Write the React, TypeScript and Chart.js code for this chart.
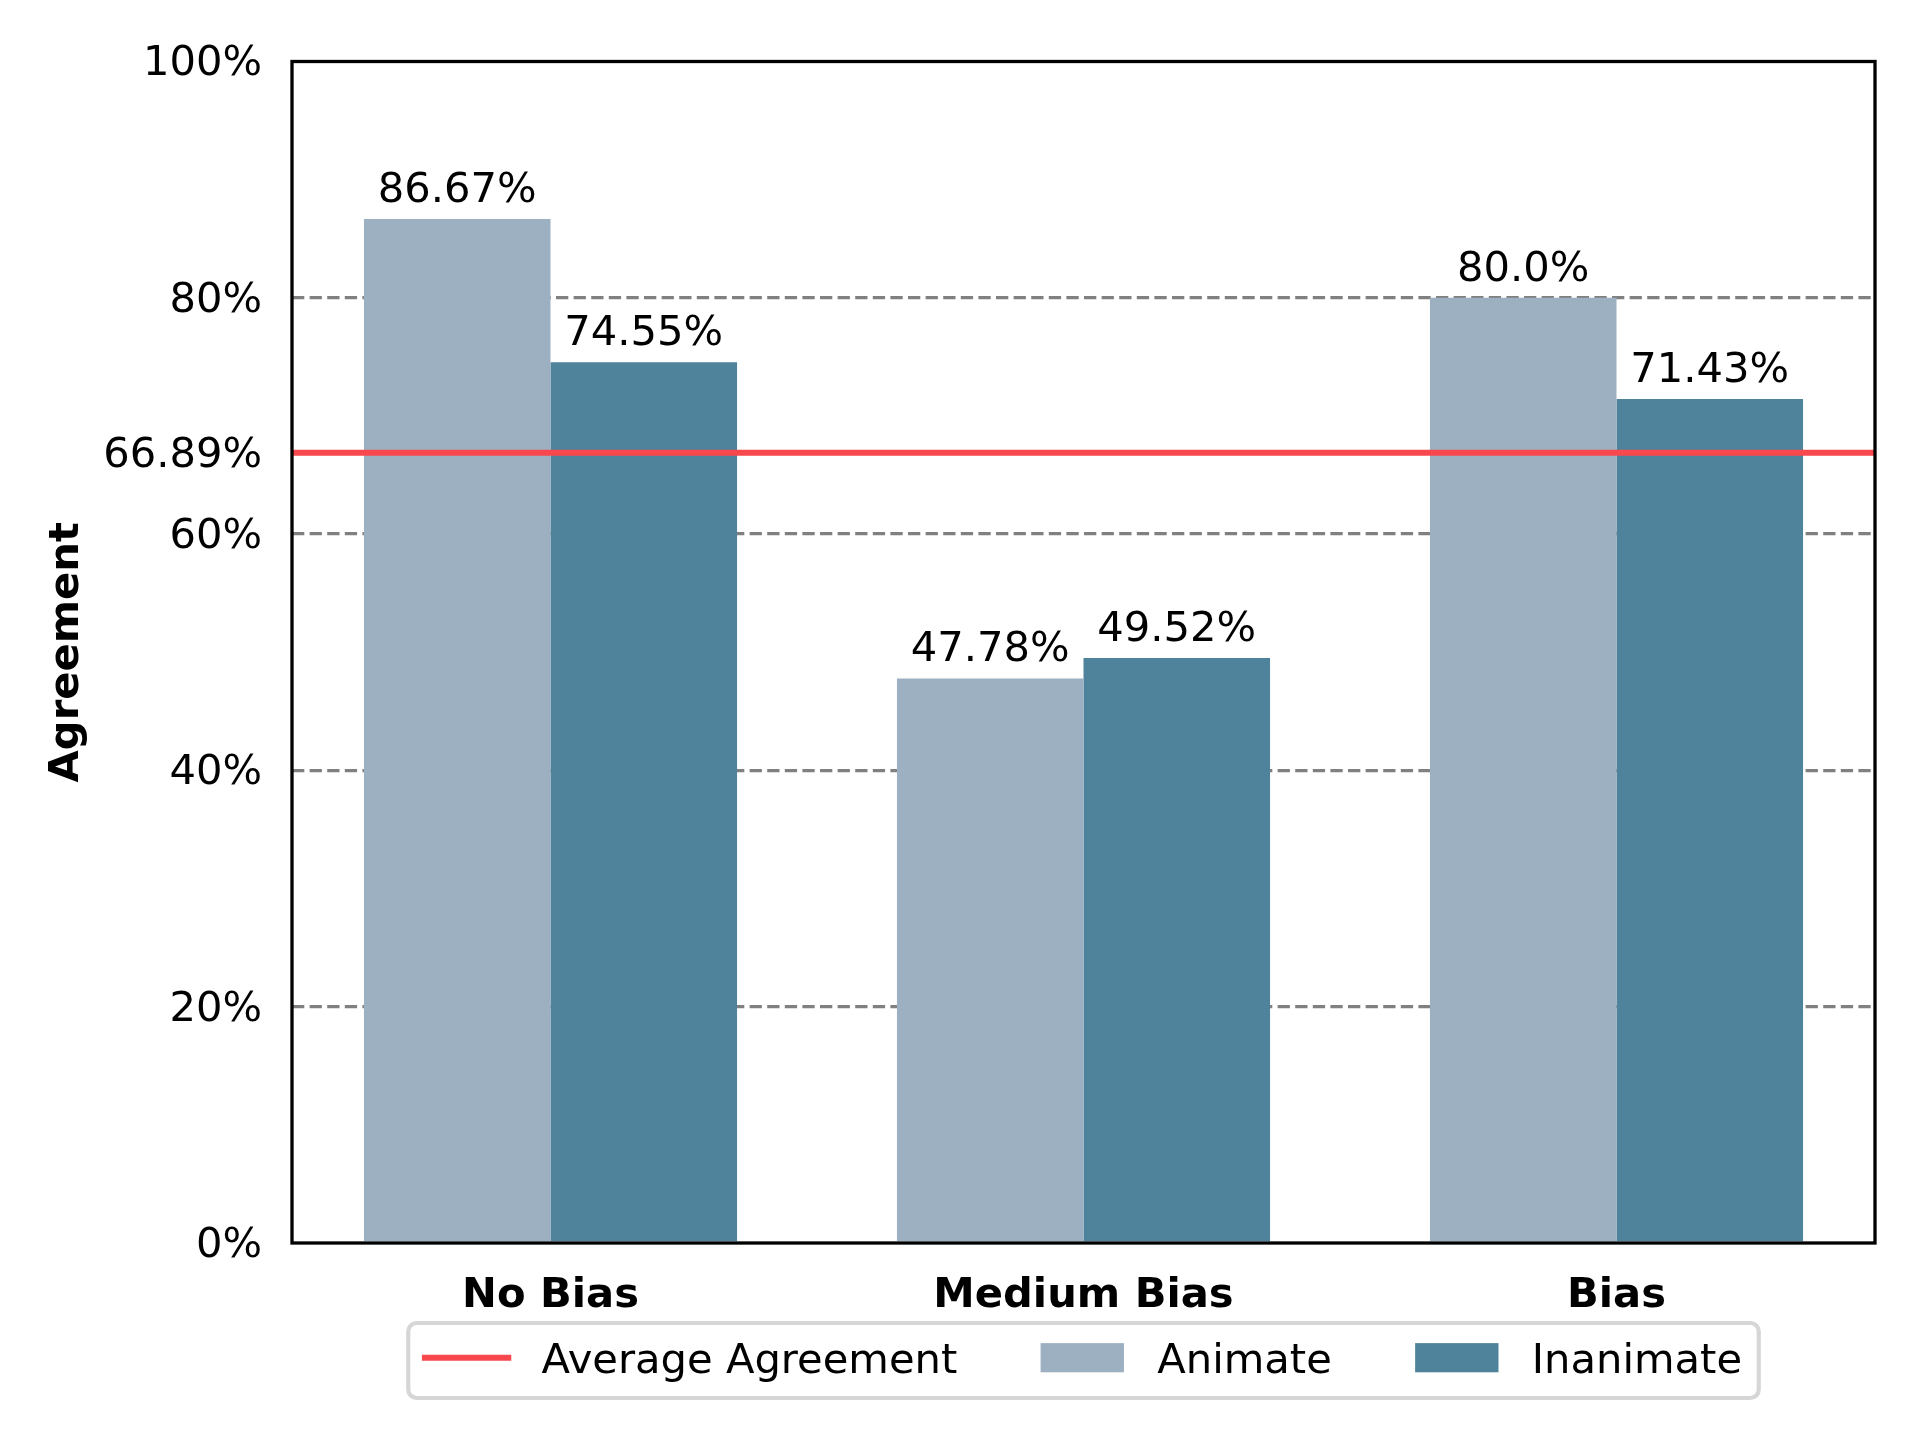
import React, { useEffect, useRef } from 'react';
import { Chart, registerables } from 'chart.js';

Chart.register(...registerables);

// ---- data ----
const categories = ['No Bias', 'Medium Bias', 'Bias'];
const seriesLabels = ['Animate', 'Inanimate'];
const animateValues = [86.67, 47.78, 80.0];
const inanimateValues = [74.55, 49.52, 71.43];
const averageLabel = 'Average Agreement';
const averageAgreement = 66.89;
const yTickValues = [0, 20, 40, 60, 80, 100];
const gridValues = [20, 40, 60, 80];
const yTitle = 'Agreement';

// ---- style ----
const FONT = '"DejaVu Sans", "Liberation Sans", sans-serif';
const FS = 41.67;
const COLORS = {
  animate: '#9DB0C1',
  inanimate: '#4F829B',
  avg: '#F8474D',
  grid: '#808080',
  frame: '#000000',
  legendEdge: '#D6D6D6',
};

const fmtValue = (v: number) => (Number.isInteger(v) ? v.toFixed(1) : String(v)) + '%';

const decorPlugin = {
  id: 'decor',
  afterDatasetsDraw(chart: any) {
    const { ctx, chartArea: a } = chart;
    const y = chart.scales.y;
    ctx.save();
    // average line
    const yy = y.getPixelForValue(averageAgreement);
    ctx.strokeStyle = COLORS.avg;
    ctx.lineWidth = 6;
    ctx.beginPath();
    ctx.moveTo(a.left, yy);
    ctx.lineTo(a.right, yy);
    ctx.stroke();
    // value labels
    ctx.fillStyle = '#000';
    ctx.font = `${FS}px ${FONT}`;
    ctx.textAlign = 'center';
    ctx.textBaseline = 'alphabetic';
    chart.data.datasets.forEach((ds: any, di: number) => {
      const meta = chart.getDatasetMeta(di);
      meta.data.forEach((el: any, i: number) => {
        const v = ds.data[i].y;
        ctx.fillText(fmtValue(v), el.x, el.y - 17);
      });
    });
    // frame
    ctx.strokeStyle = COLORS.frame;
    ctx.lineWidth = 3.3;
    ctx.strokeRect(a.left, a.top, a.right - a.left, a.bottom - a.top);
    ctx.restore();
  },
  afterDraw(chart: any) {
    const { ctx, chartArea: a } = chart;
    ctx.save();
    ctx.font = `${FS}px ${FONT}`;
    const handle = 2.0 * FS;
    const hpad = 0.8 * FS;
    const colsp = 2.0 * FS;
    const bpad = 0.4 * FS;
    const items = [
      { label: averageLabel, type: 'line', color: COLORS.avg },
      { label: seriesLabels[0], type: 'rect', color: COLORS.animate },
      { label: seriesLabels[1], type: 'rect', color: COLORS.inanimate },
    ];
    const widths = items.map((it) => handle + hpad + ctx.measureText(it.label).width);
    const content = widths.reduce((s, w) => s + w, 0) + colsp * (items.length - 1);
    const boxW = content + 2 * bpad;
    const cx = (a.left + a.right) / 2;
    const left = cx - boxW / 2;
    const top = a.bottom + 80;
    const h = 75;
    ctx.beginPath();
    (ctx as any).roundRect(left, top, boxW, h, 8.3);
    ctx.fillStyle = '#ffffff';
    ctx.fill();
    ctx.strokeStyle = COLORS.legendEdge;
    ctx.lineWidth = 4.17;
    ctx.stroke();
    let x = left + bpad;
    const midY = top + 34.7;
    items.forEach((it, i) => {
      if (it.type === 'line') {
        ctx.strokeStyle = it.color;
        ctx.lineWidth = 6;
        ctx.lineCap = 'square';
        ctx.beginPath();
        ctx.moveTo(x, midY);
        ctx.lineTo(x + handle, midY);
        ctx.stroke();
        ctx.lineCap = 'butt';
      } else {
        ctx.fillStyle = it.color;
        ctx.fillRect(x, midY - 0.35 * FS, handle, 0.7 * FS);
      }
      ctx.fillStyle = '#000';
      ctx.textAlign = 'left';
      ctx.textBaseline = 'alphabetic';
      ctx.fillText(it.label, x + handle + hpad, top + 50);
      x += widths[i] + colsp;
    });
    ctx.restore();
  },
};

export default function App() {
  const ref = useRef<HTMLCanvasElement>(null);
  useEffect(() => {
    if (!ref.current) return;
    const chart = new Chart(ref.current, {
      type: 'bar',
      data: {
        datasets: [
          {
            label: seriesLabels[0],
            data: categories.map((_, i) => ({ x: i, y: animateValues[i] })),
            backgroundColor: COLORS.animate,
            borderWidth: 0,
          },
          {
            label: seriesLabels[1],
            data: categories.map((_, i) => ({ x: i, y: inanimateValues[i] })),
            backgroundColor: COLORS.inanimate,
            borderWidth: 0,
          },
        ],
      },
      options: {
        animation: false,
        responsive: true,
        maintainAspectRatio: false,
        devicePixelRatio: 1,
        layout: { padding: { left: 0, top: 61.5, right: 45, bottom: 0 } },
        plugins: { legend: { display: false }, tooltip: { enabled: false } },
        datasets: { bar: { categoryPercentage: 0.7, barPercentage: 1.0 } },
        scales: {
          x: {
            type: 'linear',
            min: -0.485,
            max: 2.485,
            offset: false,
            grid: { display: false, drawTicks: false, offset: false },
            border: { display: false },
            afterBuildTicks: (s: any) => {
              s.ticks = categories.map((_, i) => ({ value: i }));
            },
            afterFit: (s: any) => {
              s.height = 197;
            },
            ticks: {
              autoSkip: false,
              maxRotation: 0,
              padding: 28,
              color: '#000',
              font: { family: FONT, size: FS, weight: 'bold' },
              callback: (v: any) => categories[v] ?? '',
            },
          },
          y: {
            min: 0,
            max: 100,
            grid: {
              drawTicks: false,
              lineWidth: 3.3,
              color: (c: any) =>
                c.tick && gridValues.includes(c.tick.value) ? COLORS.grid : 'rgba(0,0,0,0)',
            },
            border: { display: false, dash: [12.3, 5.3] },
            afterBuildTicks: (s: any) => {
              s.ticks = [...yTickValues, averageAgreement]
                .sort((p, q) => p - q)
                .map((v) => ({ value: v }));
            },
            afterFit: (s: any) => {
              s.width = 292;
            },
            ticks: {
              autoSkip: false,
              padding: 30,
              labelOffset: 3,
              color: '#000',
              font: { family: FONT, size: FS },
              callback: (v: any) =>
                v === averageAgreement ? averageAgreement.toFixed(2) + '%' : v + '%',
            },
            title: {
              display: true,
              text: yTitle,
              color: '#000',
              font: { family: FONT, size: FS, weight: 'bold' },
              padding: { top: 42, bottom: 0 },
            },
          },
        },
      },
      plugins: [decorPlugin],
    } as any);
    return () => chart.destroy();
  }, []);
  return (
    <div
      style={{
        position: 'fixed',
        left: 0,
        top: 0,
        width: 1920,
        height: 1440,
        background: '#ffffff',
      }}
    >
      <canvas ref={ref} />
    </div>
  );
}
